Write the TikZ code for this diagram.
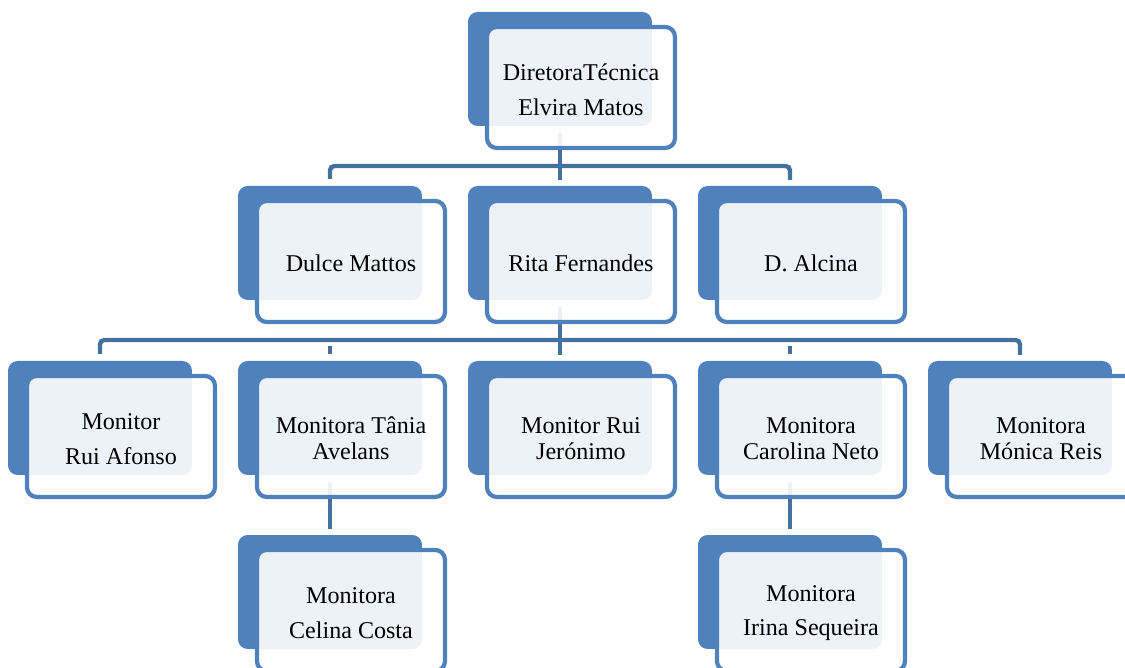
\documentclass[tikz,border=0pt]{standalone}
\usepackage{fontspec}
\setmainfont{Liberation Serif}
\usetikzlibrary{positioning,backgrounds}
\definecolor{boxblue}{HTML}{4F81BD}
\definecolor{linkblue}{HTML}{41719C}
% back card + front card with the name
\newcommand{\orgbox}[4]{%
  \node[backbox] (#1-b) at (#2,#3) {};
  \node[frontbox, below right=0.30cm and 0.38cm of #1-b.north west] (#1) {\rule{0pt}{12pt}#4};
}
\tikzset{
  backbox/.style={rectangle, rounded corners=5.5pt, fill=boxblue, minimum width=3.68cm,
    minimum height=2.28cm, inner sep=0pt, outer sep=0pt, anchor=north west},
  frontbox/.style={rectangle, rounded corners=5.5pt, draw=boxblue, line width=2.4pt,
    fill=white, fill opacity=0.9, text opacity=1, minimum width=3.76cm, minimum height=2.42cm,
    inner sep=0pt, outer sep=0pt, align=center, font=\fontsize{13.7}{14.7}\selectfont},
  link/.style={draw=linkblue, line width=2.5pt, shorten <=4pt, shorten >=3.5pt,
    rounded corners=2.5pt},
}

\begin{document}
\begin{tikzpicture}[x=0.02cm,y=-0.02cm]
  \useasboundingbox (0,0) rectangle (1125,668);
  % level 1
  \orgbox{top}{468}{12}{DiretoraTécnica\\[5.1pt]Elvira Matos}
  % level 2
  \orgbox{dulce}{238}{186}{Dulce Mattos}
  \orgbox{rita}{468}{186}{Rita Fernandes}
  \orgbox{alcina}{698}{186}{D. Alcina}
  % level 3
  \orgbox{afonso}{8}{361}{Monitor\\[5.1pt]Rui Afonso}
  \orgbox{tania}{238}{361}{Monitora Tânia\\Avelans}
  \orgbox{jeronimo}{468}{361}{Monitor Rui\\Jerónimo}
  \orgbox{carolina}{698}{361}{Monitora\\Carolina Neto}
  \orgbox{monica}{928}{361}{Monitora\\Mónica Reis}
  % level 4
  \orgbox{celina}{238}{535}{Monitora\\[5.1pt]Celina Costa}
  \orgbox{irina}{698}{535}{Monitora\\[5.1pt]Irina Sequeira}

  \begin{scope}[on background layer]
    \draw[link] (top-b.south) -- (rita-b.north);
    \draw[link] (dulce-b.north) -- ++(0,-20) -| (alcina-b.north);
    \draw[link] (rita-b.south) -- (jeronimo-b.north);
    \draw[link] (afonso-b.north) -- ++(0,-21) -| (monica-b.north);
    \draw[link] (tania-b.north) -- ++(0,-21);
    \draw[link] (carolina-b.north) -- ++(0,-21);
    \draw[link] (tania-b.south) -- (celina-b.north);
    \draw[link] (carolina-b.south) -- (irina-b.north);
  \end{scope}
\end{tikzpicture}
\end{document}
